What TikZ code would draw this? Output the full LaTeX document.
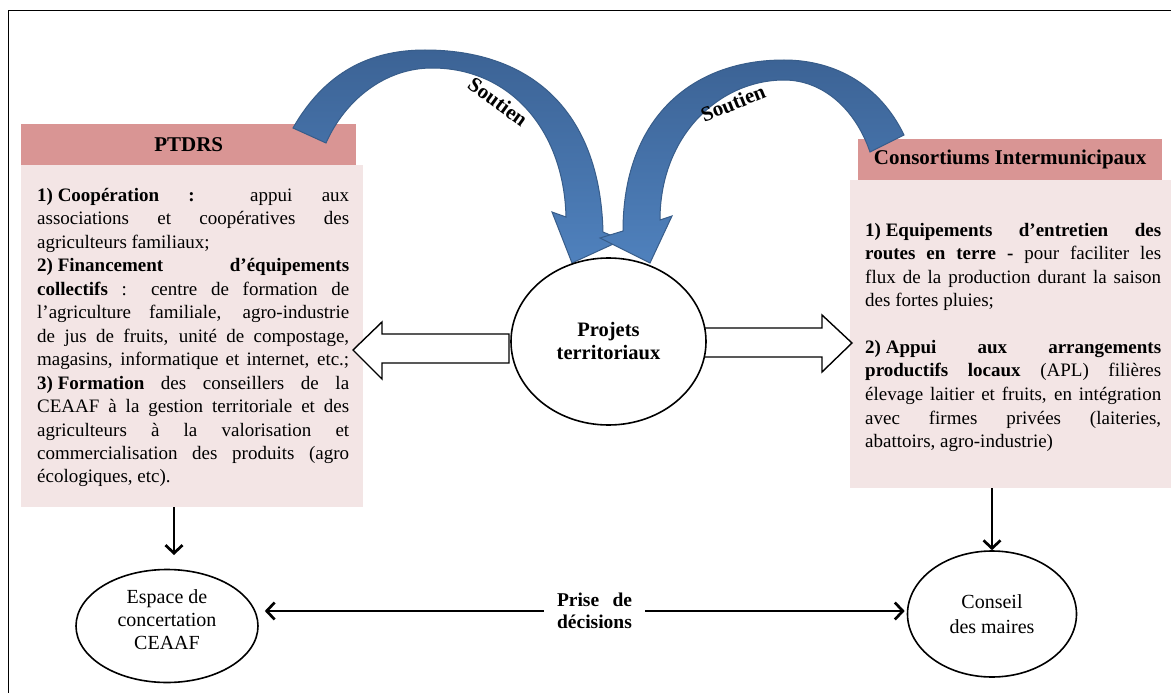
\documentclass[tikz,border=0pt]{standalone}
\usepackage{fontspec}
\setmainfont{Liberation Serif}
\usetikzlibrary{arrows.meta,shapes.geometric}
\definecolor{hdr}{HTML}{D99594}
\definecolor{bodyc}{HTML}{F3E5E5}
\definecolor{bdark}{HTML}{3C6395}
\definecolor{blight}{HTML}{4F81BD}
\definecolor{bline}{HTML}{385D8A}
\newcommand\jline[1]{\hbox to\hsize{#1}}
\newcommand\lline[1]{\hbox to\hsize{#1\hfil}}
\newcommand\fsp{\hskip0.25em\relax}
\newcommand\bodyfnt{\fontsize{19}{23.5}\selectfont}
\begin{document}
\begin{tikzpicture}[x=1pt,y=-1pt,
  hdrbox/.style={fill=hdr,draw=none,inner sep=0pt,anchor=north west,font=\bfseries\fontsize{21}{24}\selectfont},
  bodybox/.style={fill=bodyc,draw=none,inner sep=0pt,anchor=north west},
  ell/.style={ellipse,draw=black,line width=1.6pt,fill=white,inner sep=0pt},
  arr/.style={line width=2.7pt,-{Straight Barb[length=8pt,width=17pt]}},
  blockarr/.style={draw=black,line width=1.4pt,fill=white,line join=miter},
  curvedarr/.style={draw=bline,line width=1pt,top color=bdark,bottom color=blight},
  soutien/.style={font=\bfseries\fontsize{21}{23}\selectfont,inner sep=0pt},
  txt/.style={anchor=base west,inner sep=0pt}]
\useasboundingbox (0,0) rectangle (1171,693);
\fill[white] (0,0) rectangle (1171,693);
\draw[line width=1pt] (8,11) rectangle (1190,710);

% left box
\node[bodybox,minimum width=342pt,minimum height=342pt] (lbody) at (21,165) {};
\node[hdrbox,minimum width=335pt,minimum height=41pt] (lhdr) at (21,124) {PTDRS};
\node[txt] (ltext) at (37,201) {\parbox[t]{312pt}{\bodyfnt
\jline{\textbf{1)\fsp Coopération :} appui aux}
\jline{associations et coopératives des}
\lline{agriculteurs familiaux;}
\jline{\textbf{2)\fsp Financement d’équipements}}
\jline{\textbf{collectifs} : centre de formation de}
\jline{l’agriculture familiale, agro-industrie}
\jline{de jus de fruits, unité de compostage,}
\jline{magasins, informatique et internet, etc.;}
\jline{\textbf{3)\fsp Formation} des conseillers de la}
\jline{CEAAF à la gestion territoriale et des}
\jline{agriculteurs à la valorisation et}
\jline{commercialisation des produits (agro}
\lline{écologiques, etc).}}};

% right box
\node[bodybox,minimum width=330pt,minimum height=308pt] (rbody) at (850,180) {};
\node[hdrbox,minimum width=304pt,minimum height=41pt] (rhdr) at (858,139) {Consortiums Intermunicipaux};
\node[txt] (rtext) at (865,236) {\parbox[t]{296pt}{\bodyfnt
\jline{\textbf{1)\fsp Equipements d’entretien des}}
\jline{\textbf{routes en terre -} pour faciliter les}
\jline{flux de la production durant la saison}
\lline{des fortes pluies;}
\lline{}
\jline{\textbf{2)\fsp Appui aux arrangements}}
\jline{\textbf{productifs locaux} (APL) filières}
\jline{élevage laitier et fruits, en intégration}
\jline{avec firmes privées (laiteries,}
\lline{abattoirs, agro-industrie)}}};

% curved support arrows
\path[curvedarr] (293,128) .. controls (325,72) and (370,50) .. (425,50)
  .. controls (530,50) and (600,110) .. (603,232) -- (622,240) -- (572,263) -- (552,212) -- (566,217)
  .. controls (564,130) and (510,68) .. (432,68)
  .. controls (385,68) and (345,100) .. (326,143) -- cycle;
\path[curvedarr] (904,135) .. controls (880,85) and (835,60) .. (784,60)
  .. controls (690,60) and (623,120) .. (623,231) -- (600,238) -- (650,263) -- (672,216) -- (660,220)
  .. controls (660,135) and (720,80) .. (784,80)
  .. controls (822,80) and (855,108) .. (870,152) -- cycle;
\node[soutien,rotate=-36] (s1) at (498,102) {Soutien};
\node[soutien,rotate=22] (s2) at (733,103) {Soutien};

% hollow block arrows
\draw[blockarr] (509,334) -- (382,334) -- (382,322) -- (353,350) -- (382,379) -- (382,363) -- (509,363) -- cycle;
\draw[blockarr] (703,328) -- (822,328) -- (822,315) -- (852,343) -- (822,372) -- (822,357) -- (703,357) -- cycle;

% ellipses
\node[ell,minimum width=195pt,minimum height=167pt,font=\bfseries\fontsize{20.5}{23}\selectfont,align=center] (proj) at (608.5,341.5) {Projets\\territoriaux};
\node[ell,minimum width=182pt,minimum height=113pt] (esp) at (167,626) {};
\node[font=\fontsize{20}{23}\selectfont,align=center,inner sep=0pt] (espt) at (167,620) {Espace de\\concertation\\CEAAF};
\node[ell,minimum width=169pt,minimum height=126pt,font=\fontsize{20}{24.5}\selectfont,align=center] (con) at (992,614) {Conseil\\des maires};

% decision label and arrows
\node[font=\bfseries\fontsize{19.5}{22.5}\selectfont,align=center,inner xsep=13pt,inner ysep=1pt] (prise) at (594.5,611) {\hbox to 75pt{Prise\hfil de}\\décisions};
\draw[arr] (prise.west) -- ([xshift=6pt]esp.east |- prise.west);
\draw[arr] (prise.east) -- ([xshift=-2pt]con.west |- prise.east);

% down arrows
\coordinate (ldt) at (174,555);
\draw[arr] (lbody.south -| ldt) -- (ldt);
\draw[arr] (rbody.south -| con.north) -- (con.north);
\end{tikzpicture}
\end{document}
